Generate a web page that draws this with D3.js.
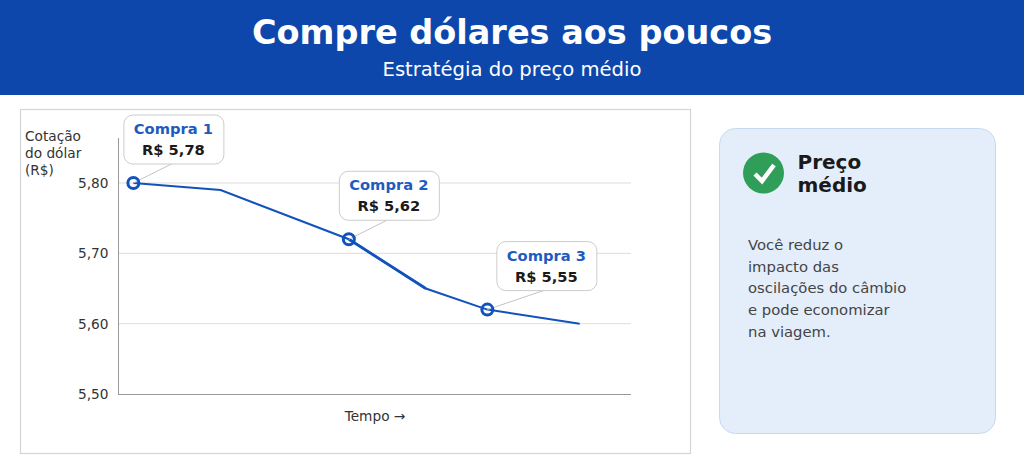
<!DOCTYPE html>
<html lang="pt-BR">
<head>
<meta charset="utf-8">
<script src="https://cdn.jsdelivr.net/npm/d3@7"></script>
<style>
html, body { margin: 0; padding: 0; background: #fff; overflow: hidden; }
svg { display: block; }
text { font-family: "DejaVu Sans", sans-serif; }
</style>
</head>
<body>
<script>
// line values, tempo has no units in the picture
var tempo = [3, 20, 45, 60, 72, 90];
var cotacao = [5.80, 5.79, 5.72, 5.65, 5.62, 5.60];
var yTicks = [5.50, 5.60, 5.70, 5.80];

// purchases: index into the line, and the price printed on the label
var compraNomes = ['Compra 1', 'Compra 2', 'Compra 3'];
var compraIdx = [0, 2, 4];
var compraPrecos = ['R$ 5,78', 'R$ 5,62', 'R$ 5,55'];

var yLabel = ['Cotação', 'do dólar', '(R$)'];
var panelLines = ['Você reduz o', 'impacto das', 'oscilações do câmbio', 'e pode economizar', 'na viagem.'];

var blue = '#0d47ab';
var lineBlue = '#1152bd';

var svg = d3.select('body').append('svg').attr('width', 1024).attr('height', 473);

// header
svg.append('rect').attr('width', 1024).attr('height', 95).attr('fill', blue);
svg.append('text').attr('x', 512).attr('y', 44).attr('text-anchor', 'middle')
	.attr('fill', '#fff').attr('font-size', 33.5).attr('font-weight', 'bold')
	.text('Compre dólares aos poucos');
svg.append('text').attr('x', 512).attr('y', 76).attr('text-anchor', 'middle')
	.attr('fill', '#fff').attr('font-size', 19.6)
	.text('Estratégia do preço médio');

// chart box
svg.append('rect').attr('x', 20.5).attr('y', 109.5).attr('width', 670).attr('height', 344)
	.attr('fill', '#fff').attr('stroke', '#d4d4d4').attr('stroke-width', 1.2);

var x = d3.scaleLinear().domain([0, 100]).range([118, 631]);
var y = d3.scaleLinear().domain([5.5, 5.8]).range([394, 183]);

// grid
svg.append('g').selectAll('line').data(yTicks.slice(1)).enter().append('line')
	.attr('x1', 118).attr('x2', 631)
	.attr('y1', function (d) { return y(d); })
	.attr('y2', function (d) { return y(d); })
	.attr('stroke', '#dddddd').attr('stroke-width', 1);

// axes
var yAxis = d3.axisLeft(y).tickValues(yTicks).tickSize(0).tickPadding(10)
	.tickFormat(function (d) { return d.toFixed(2).replace('.', ','); });
var gy = svg.append('g').attr('transform', 'translate(118.5,0)').call(yAxis);
gy.select('.domain').remove();
gy.selectAll('text').attr('font-size', 13.7).attr('fill', '#333')
	.style('font-family', '"DejaVu Sans", sans-serif');
svg.append('line').attr('x1', 118.5).attr('x2', 118.5).attr('y1', 138).attr('y2', 394)
	.attr('stroke', '#999');
svg.append('line').attr('x1', 118).attr('x2', 631).attr('y1', 394.5).attr('y2', 394.5)
	.attr('stroke', '#999');

svg.append('g').selectAll('text').data(yLabel).enter().append('text')
	.attr('x', 25)
	.attr('y', function (d, i) { return 141 + i * 17; })
	.attr('font-size', 13.7).attr('fill', '#333')
	.text(function (d) { return d; });

svg.append('text').attr('x', 375).attr('y', 421).attr('text-anchor', 'middle')
	.attr('font-size', 13.7).attr('fill', '#333').text('Tempo →');

// line
var line = d3.line()
	.x(function (d) { return x(d); })
	.y(function (d, i) { return y(cotacao[i]); });
svg.append('path').attr('d', line(tempo)).attr('fill', 'none')
	.attr('stroke', lineBlue).attr('stroke-width', 2);
// the stretch after Compra 2 is heavier in the picture
svg.append('path')
	.attr('d', 'M' + x(tempo[2]) + ',' + y(cotacao[2]) + 'L' + x(tempo[3]) + ',' + y(cotacao[3]))
	.attr('fill', 'none').attr('stroke', lineBlue).attr('stroke-width', 2.8);

// purchases; the last label sits further right of its point
function labelDx(i) { return i === 2 ? 60 : 41; }

var compras = svg.append('g').selectAll('g').data(compraIdx).enter().append('g');
compras.append('line')
	.attr('x1', function (d) { return x(tempo[d]); })
	.attr('y1', function (d) { return y(cotacao[d]); })
	.attr('x2', function (d, i) { return x(tempo[d]) + labelDx(i) - 1; })
	.attr('y2', function (d) { return y(cotacao[d]) - 20; })
	.attr('stroke', '#c4c4c4').attr('stroke-width', 1);
compras.append('circle')
	.attr('cx', function (d) { return x(tempo[d]); })
	.attr('cy', function (d) { return y(cotacao[d]); })
	.attr('r', 5.5).attr('fill', 'none')
	.attr('stroke', lineBlue).attr('stroke-width', 3);
compras.append('rect')
	.attr('x', function (d, i) { return x(tempo[d]) + labelDx(i) - 50.5; })
	.attr('y', function (d) { return y(cotacao[d]) - 68; })
	.attr('width', 100).attr('height', 49).attr('rx', 9)
	.attr('fill', '#fff').attr('stroke', '#cccccc').attr('stroke-width', 1);
compras.append('text')
	.attr('x', function (d, i) { return x(tempo[d]) + labelDx(i) - 1; })
	.attr('y', function (d) { return y(cotacao[d]) - 49; })
	.attr('text-anchor', 'middle').attr('font-size', 14.7).attr('font-weight', 'bold')
	.attr('fill', '#1f5bbf')
	.text(function (d, i) { return compraNomes[i]; });
compras.append('text')
	.attr('x', function (d, i) { return x(tempo[d]) + labelDx(i) - 1; })
	.attr('y', function (d) { return y(cotacao[d]) - 28; })
	.attr('text-anchor', 'middle').attr('font-size', 14.7).attr('font-weight', 'bold')
	.attr('fill', '#1a1a1a')
	.text(function (d, i) { return compraPrecos[i]; });

// side panel
svg.append('rect').attr('x', 719.5).attr('y', 128.5).attr('width', 276).attr('height', 305).attr('rx', 16)
	.attr('fill', '#e4eefa').attr('stroke', '#c8d9f0').attr('stroke-width', 1);
svg.append('circle').attr('cx', 763.5).attr('cy', 173).attr('r', 20.5).attr('fill', '#2e9e59');
svg.append('path').attr('d', 'M755 174 L762 181 L774 165').attr('fill', 'none')
	.attr('stroke', '#fff').attr('stroke-width', 4.5);
svg.append('text').attr('x', 797.5).attr('y', 168.5).attr('font-size', 20).attr('font-weight', 'bold')
	.attr('fill', '#1a1a1a').text('Preço');
svg.append('text').attr('x', 797.5).attr('y', 191.5).attr('font-size', 20).attr('font-weight', 'bold')
	.attr('fill', '#1a1a1a').text('médio');
svg.append('g').selectAll('text').data(panelLines).enter().append('text')
	.attr('x', 748)
	.attr('y', function (d, i) { return 250 + i * 21.7; })
	.attr('font-size', 14.8).attr('fill', '#444')
	.text(function (d) { return d; });
</script>
</body>
</html>
